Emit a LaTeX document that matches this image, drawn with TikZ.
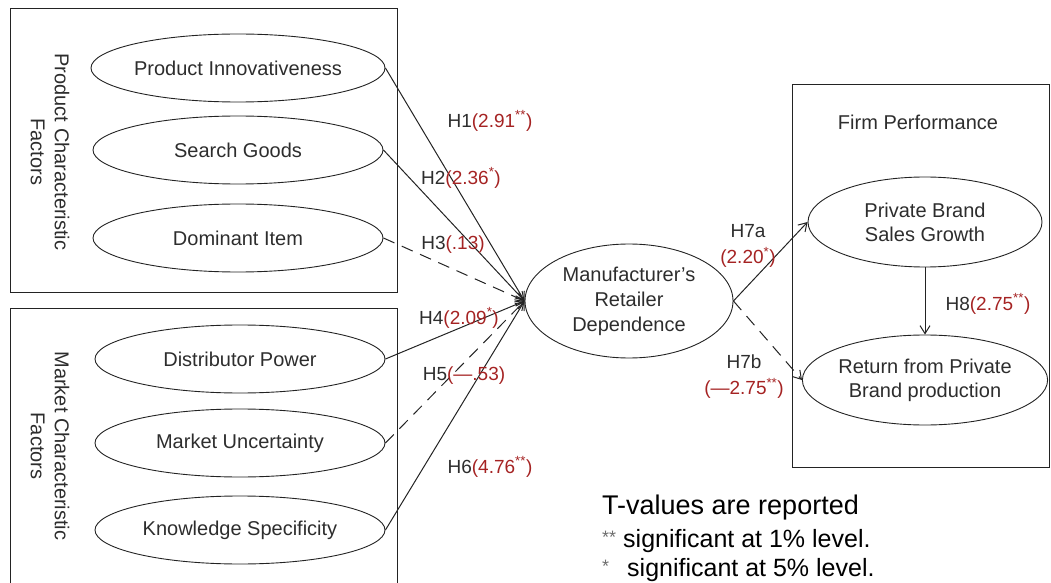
\documentclass[tikz,border=0pt]{standalone}
\usepackage{fontspec}
\setmainfont{Liberation Sans}
\usetikzlibrary{shapes.geometric,arrows.meta}
\definecolor{ink}{RGB}{45,45,45}
\definecolor{tred}{RGB}{165,35,35}
\definecolor{edge}{RGB}{35,35,35}
\definecolor{astgray}{RGB}{110,110,110}
\newcommand{\tv}[1]{\textcolor{tred}{#1}}
\newcommand{\sgf}[1]{\textsuperscript{#1}}
\begin{document}
\begin{tikzpicture}[x=1bp,y=-1bp,
  every node/.style={font=\fontsize{20bp}{24bp}\selectfont, text=ink},
  frame/.style={draw=edge, line width=1bp},
  factor/.style={ellipse, draw=edge, line width=0.9bp, minimum width=290bp, minimum height=68bp, inner sep=0pt, align=center},
  outcome/.style={ellipse, draw=edge, line width=0.9bp, minimum width=234bp, minimum height=90bp, inner sep=0pt, align=center},
  grouplbl/.style={rotate=-90, align=center},
  hlbl/.style={font=\fontsize{19bp}{26bp}\selectfont, align=center, inner sep=0pt},
  legendtxt/.style={font=\fontsize{25bp}{28bp}\selectfont, text=black, anchor=base west, inner sep=0pt},
  link/.style={draw=edge, line width=1bp, -{Straight Barb[length=8bp,width=10bp]}},
  weak/.style={link, dash pattern=on 12bp off 8bp}
]
\useasboundingbox (0,0) rectangle (1051,583);

% group frames
\draw[frame] (10,9) rectangle (397,292);
\draw[frame] (10,583) -- (10,308) -- (397,308) -- (397,583);
\draw[frame] (792,85) rectangle (1049,467);

% group labels
\node[grouplbl] (pcf) at (50,152) {Product Characteristic\\Factors};
\node[grouplbl] (mcf) at (50,446) {Market Characteristic\\Factors};
\node (fp) at (918,122) {Firm Performance};

% factor ellipses
\node[factor] (pi) at (238,68) {Product Innovativeness};
\node[factor] (sg) at (238,150) {Search Goods};
\node[factor] (di) at (238,238) {Dominant Item};
\node[factor] (dp) at (240,359) {Distributor Power};
\node[factor] (mu) at (240,443) {Market Uncertainty};
\node[factor] (ks) at (240,530) {Knowledge Specificity};

% central and outcome ellipses
\node[ellipse, draw=edge, line width=0.9bp, minimum width=208bp, minimum height=114bp, inner sep=0pt, align=center, font=\fontsize{20bp}{25bp}\selectfont] (mrd) at (629,301) {Manufacturer's\\Retailer\\Dependence};
\node[outcome] (pbsg) at (925,222) {Private Brand\\Sales Growth};
\node[outcome] (ret) at (925,380) {Return from Private\\Brand production};

% connectors
\draw[link] (pi.east) -- (mrd.west);
\draw[link] (sg.east) -- (mrd.west);
\draw[weak] (di.east) -- (mrd.west);
\draw[link] (dp.east) -- (mrd.west);
\draw[weak] (mu.east) -- (mrd.west);
\draw[link] (ks.east) -- (mrd.west);
\draw[link] (mrd.east) -- (pbsg.west);
\draw[weak] (mrd.east) -- (ret.west);
\draw[link] (pbsg.south) -- (ret.north);

% hypothesis labels
\node[hlbl] (h1) at (490,121) {H1\tv{(2.91\sgf{**})}};
\node[hlbl] (h2) at (461,178) {H2\tv{(2.36\sgf{*})}};
\node[hlbl] (h3) at (453,245) {H3\tv{(.13)}};
\node[hlbl] (h4) at (459,318) {H4\tv{(2.09\sgf{*})}};
\node[hlbl] (h5) at (464,376) {H5\tv{(—.53)}};
\node[hlbl] (h6) at (490,467) {H6\tv{(4.76\sgf{**})}};
\node[hlbl] (h7a) at (748,246) {H7a\\\tv{(2.20\sgf{*})}};
\node[hlbl] (h7b) at (744,377) {H7b\\\tv{(—2.75\sgf{**})}};
\node[hlbl] (h8) at (988,304) {H8\tv{(2.75\sgf{**})}};

% legend
\node[legendtxt, font=\fontsize{27bp}{30bp}\selectfont] (lg1) at (602,514) {T-values are reported};
\node[legendtxt] (lg2) at (602,547) {\textcolor{astgray}{\fontsize{18bp}{18bp}\selectfont\raisebox{4bp}{**}}\hspace{7bp}significant at 1\% level.};
\node[legendtxt] (lg3) at (602,576) {\textcolor{astgray}{\fontsize{18bp}{18bp}\selectfont\raisebox{4bp}{*}}\hspace{18bp}significant at 5\% level.};
\end{tikzpicture}
\end{document}
